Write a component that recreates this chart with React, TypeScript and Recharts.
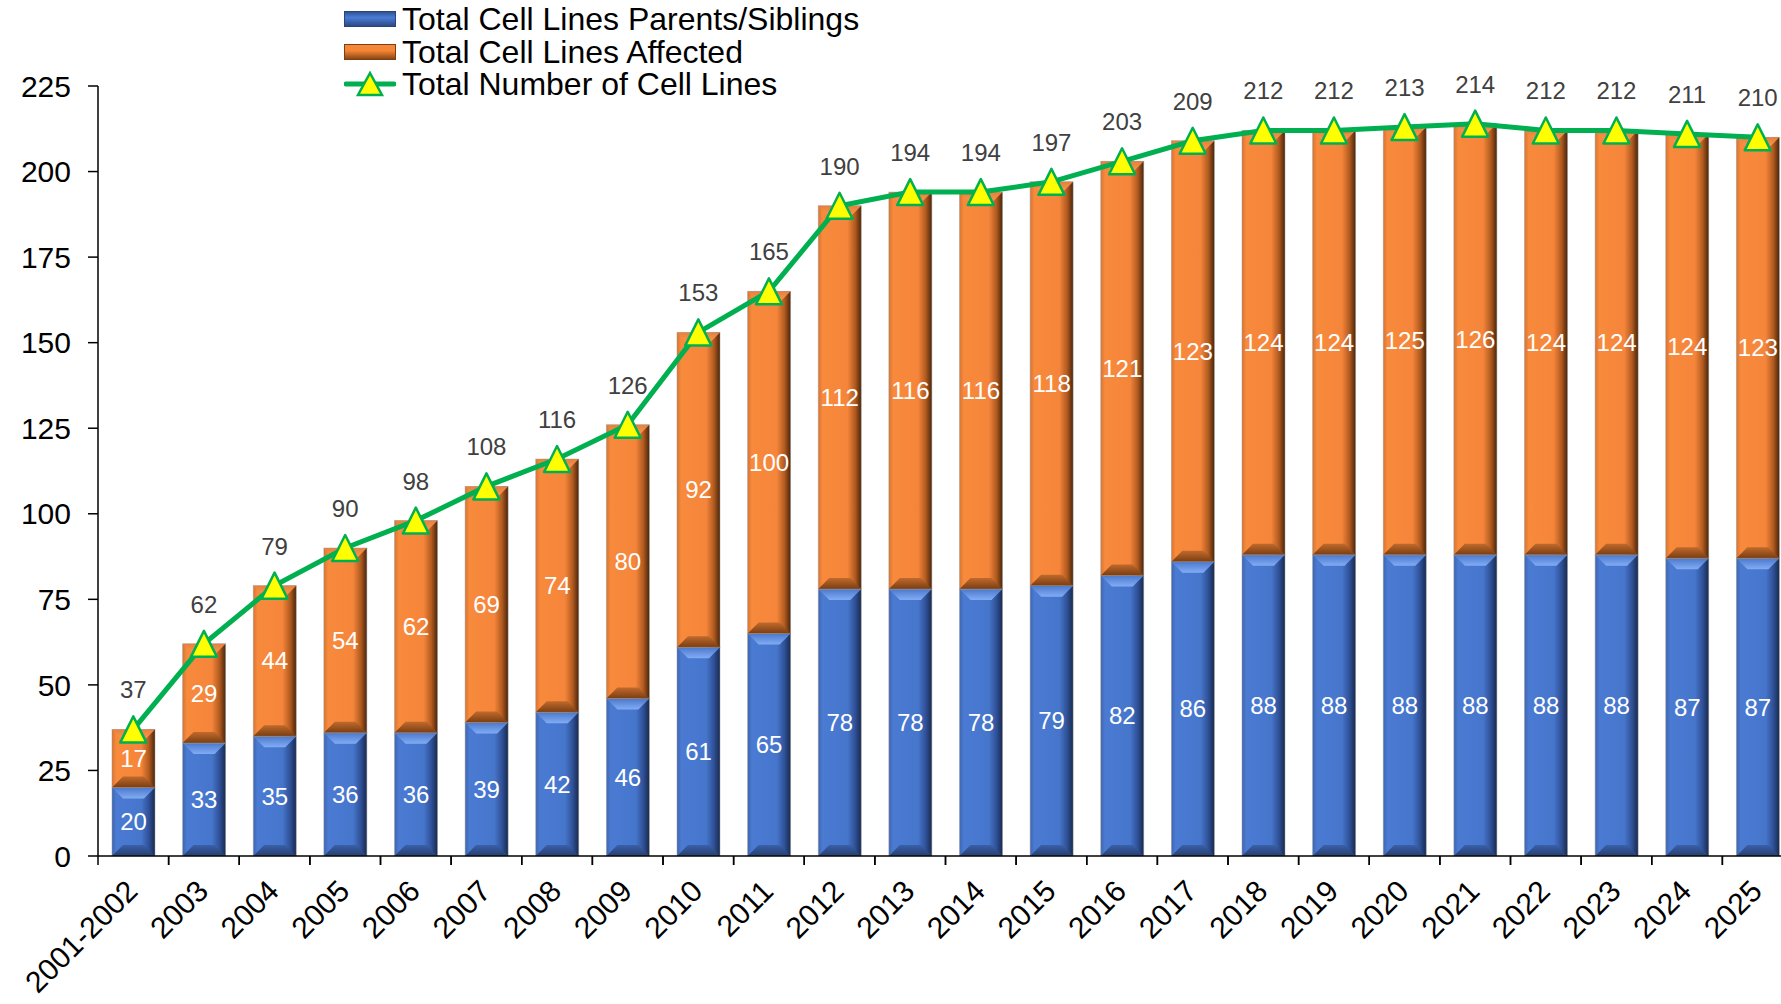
import { ComposedChart, Bar, Line, XAxis, YAxis, LabelList } from "recharts";

const years = [
  "2001-2002", "2003", "2004", "2005", "2006", "2007", "2008", "2009", "2010", "2011", "2012", "2013",
  "2014", "2015", "2016", "2017", "2018", "2019", "2020", "2021", "2022", "2023", "2024", "2025",
];
const parentsSiblings = [20, 33, 35, 36, 36, 39, 42, 46, 61, 65, 78, 78, 78, 79, 82, 86, 88, 88, 88, 88, 88, 88, 87, 87];
const affected = [17, 29, 44, 54, 62, 69, 74, 80, 92, 100, 112, 116, 116, 118, 121, 123, 124, 124, 125, 126, 124, 124, 124, 123];
const totals = [37, 62, 79, 90, 98, 108, 116, 126, 153, 165, 190, 194, 194, 197, 203, 209, 212, 212, 213, 214, 212, 212, 211, 210];
const yTicks = [0, 25, 50, 75, 100, 125, 150, 175, 200, 225];

const rows = years.map((year, i) => ({
  year,
  parents: parentsSiblings[i],
  affected: affected[i],
  total: totals[i],
}));

const FONT = "'Liberation Sans', Arial, sans-serif";
const CHART_W = 1793;
const CHART_H = 1004;
const LEFT = 98;
const BAND = (CHART_W - LEFT) / years.length;

const tones: Record<string, { top: string; bottom: string }> = {
  blue: { top: "url(#topBlue)", bottom: "url(#botBlue)" },
  orange: { top: "url(#topOrange)", bottom: "url(#botOrange)" },
};

function BevelBar(props: any) {
  const { x, y, width: w, height: h, tone } = props;
  if (!h || h <= 0) return null;
  const b = Math.min(11, h / 3);
  const t = tones[tone];
  return (
    <g>
      <rect x={x} y={y} width={w} height={h} fill={`url(#side-${tone})`} />
      <polygon points={`${x},${y} ${x + w},${y} ${x + w - b},${y + b} ${x + b},${y + b}`} fill={t.top} />
      <polygon
        points={`${x},${y + h} ${x + w},${y + h} ${x + w - b},${y + h - b} ${x + b},${y + h - b}`}
        fill={t.bottom}
      />
      <rect x={x} y={y} width={w} height={h} fill="none" stroke="#9a9a9a" strokeOpacity={0.6} strokeWidth={0.8} />
    </g>
  );
}

function Triangle(props: any) {
  const { cx, cy } = props;
  if (cx == null || cy == null) return null;
  const s = 13;
  return (
    <polygon
      points={`${cx},${cy - s} ${cx + s},${cy + s} ${cx - s},${cy + s}`}
      fill="#FFFF00"
      stroke="#00B050"
      strokeWidth={2.5}
      strokeLinejoin="round"
    />
  );
}

function YearTick(props: any) {
  const { x, y, payload } = props;
  const half = BAND / 2;
  return (
    <g>
      <line x1={x - half} y1={y} x2={x - half} y2={y + 9} stroke="#000" strokeWidth={1.5} />
      <line x1={x + half} y1={y} x2={x + half} y2={y + 9} stroke="#000" strokeWidth={1.5} />
      <text
        x={x + 6}
        y={y + 37}
        textAnchor="end"
        transform={`rotate(-45, ${x + 6}, ${y + 37})`}
        fontSize={30}
        fontFamily={FONT}
        fill="#000"
      >
        {payload.value}
      </text>
    </g>
  );
}

function LegendBox() {
  const row = { display: "flex", alignItems: "center", height: 32.5 } as const;
  const icon = { width: 52, height: 16, marginRight: 6, boxSizing: "border-box" as const };
  return (
    <div style={{ position: "absolute", left: 344, top: 3, fontFamily: FONT, fontSize: 32, color: "#000", lineHeight: "32px" }}>
      <div style={row}>
        <div style={{ ...icon, background: "linear-gradient(#2f5496, #4a7bd4 40%, #2c4a86)", border: "1px solid #2a4478" }} />
        <span>Total Cell Lines Parents/Siblings</span>
      </div>
      <div style={row}>
        <div style={{ ...icon, background: "linear-gradient(#f7873a, #f58634 40%, #8a4716)", border: "1px solid #7a3f14" }} />
        <span>Total Cell Lines Affected</span>
      </div>
      <div style={row}>
        <svg width={52} height={30} style={{ marginRight: 6 }}>
          <line x1={2} y1={15} x2={50} y2={15} stroke="#00B050" strokeWidth={5} strokeLinecap="round" />
          <polygon points="26,4 38,26 14,26" fill="#FFFF00" stroke="#00B050" strokeWidth={2.5} />
        </svg>
        <span>Total Number of Cell Lines</span>
      </div>
    </div>
  );
}

export default function App() {
  return (
    <div style={{ position: "absolute", left: 0, top: 0, width: 1781, height: 1004, overflow: "hidden", background: "#fff" }}>
      <ComposedChart
        width={CHART_W}
        height={CHART_H}
        data={rows}
        margin={{ top: 86, right: 0, left: 0, bottom: 0 }}
      >
        <defs>
          <linearGradient id="side-blue" x1="0" y1="0" x2="1" y2="0">
            <stop offset="0" stopColor="#3f66b0" />
            <stop offset="0.1" stopColor="#4a7ad2" />
            <stop offset="0.68" stopColor="#4676cc" />
            <stop offset="0.86" stopColor="#2f5096" />
            <stop offset="1" stopColor="#182a4e" />
          </linearGradient>
          <linearGradient id="side-orange" x1="0" y1="0" x2="1" y2="0">
            <stop offset="0" stopColor="#d87430" />
            <stop offset="0.1" stopColor="#f88a3c" />
            <stop offset="0.68" stopColor="#f5853a" />
            <stop offset="0.86" stopColor="#b05a20" />
            <stop offset="1" stopColor="#4a250a" />
          </linearGradient>
          <linearGradient id="topBlue" x1="0" y1="0" x2="0" y2="1">
            <stop offset="0" stopColor="#4a78cc" />
            <stop offset="1" stopColor="#82acf4" />
          </linearGradient>
          <linearGradient id="botBlue" x1="0" y1="0" x2="0" y2="1">
            <stop offset="0" stopColor="#3a60a8" />
            <stop offset="1" stopColor="#263f70" />
          </linearGradient>
          <linearGradient id="topOrange" x1="0" y1="0" x2="0" y2="1">
            <stop offset="0" stopColor="#e7803a" />
            <stop offset="1" stopColor="#fb9a55" />
          </linearGradient>
          <linearGradient id="botOrange" x1="0" y1="0" x2="0" y2="1">
            <stop offset="0" stopColor="#c06a2c" />
            <stop offset="1" stopColor="#7a3d12" />
          </linearGradient>
        </defs>
        <XAxis
          dataKey="year"
          interval={0}
          height={148}
          tickLine={false}
          tickSize={0}
          tickMargin={0}
          axisLine={{ stroke: "#000", strokeWidth: 1.5 }}
          tick={<YearTick />}
        />
        <YAxis
          width={LEFT}
          domain={[0, 225]}
          ticks={yTicks}
          allowDataOverflow
          tickSize={10}
          tickMargin={17}
          axisLine={{ stroke: "#000", strokeWidth: 1.5 }}
          tickLine={{ stroke: "#000", strokeWidth: 1.5 }}
          tick={{ fontSize: 30, fontFamily: FONT, fill: "#000" }}
        />
        <Bar
          dataKey="parents"
          stackId="a"
          barSize={43}
          fill="#4472C4"
          isAnimationActive={false}
          shape={(p: any) => <BevelBar {...p} tone="blue" />}
        >
          <LabelList dataKey="parents" position="center" fill="#fff" fontSize={24} fontFamily={FONT} />
        </Bar>
        <Bar
          dataKey="affected"
          stackId="a"
          barSize={43}
          fill="#ED7D31"
          isAnimationActive={false}
          shape={(p: any) => <BevelBar {...p} tone="orange" />}
        >
          <LabelList dataKey="affected" position="center" fill="#fff" fontSize={24} fontFamily={FONT} />
        </Bar>
        <Line
          type="linear"
          dataKey="total"
          stroke="#00B050"
          strokeWidth={5}
          dot={<Triangle />}
          activeDot={false}
          isAnimationActive={false}
        >
          <LabelList dataKey="total" position="top" offset={31} fill="#404040" fontSize={24} fontFamily={FONT} />
        </Line>
      </ComposedChart>
      <LegendBox />
    </div>
  );
}
